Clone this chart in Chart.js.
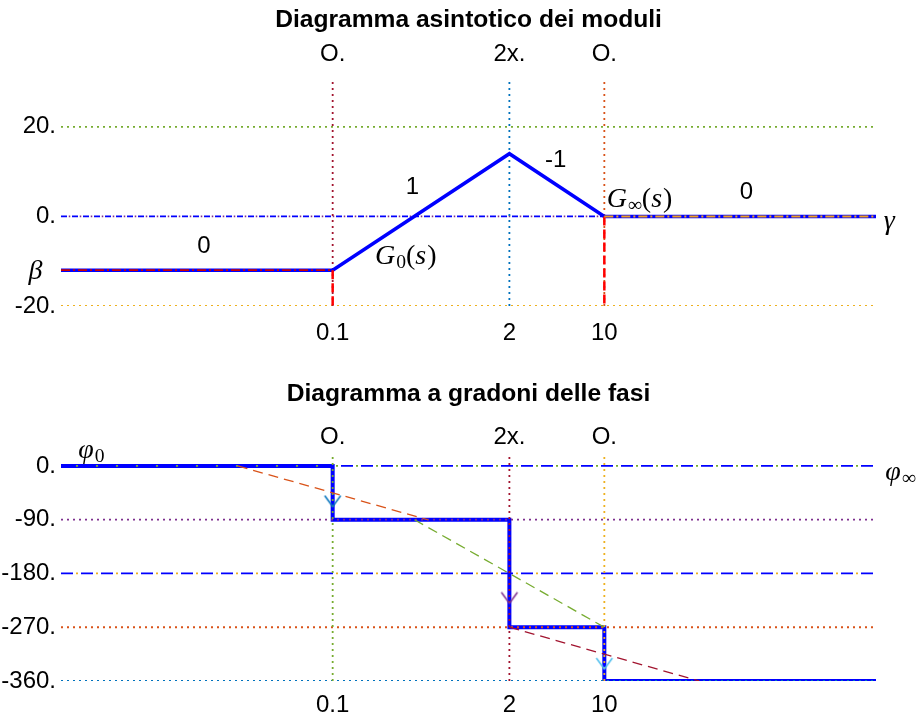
<!DOCTYPE html>
<html>
<head>
<meta charset="utf-8">
<script src="https://cdn.jsdelivr.net/npm/chart.js@4.4.1/dist/chart.umd.min.js"></script>
<style>
  html, body { margin: 0; padding: 0; background: #fff; }
  canvas { display: block; }
</style>
</head>
<body>
<canvas id="magChart" width="924" height="360"></canvas>
<canvas id="phaseChart" width="924" height="361"></canvas>
<script>
// break frequencies
const breaks = [0.1, 2, 10];
const breakLabels = ['0.1', '2', '10'];
const breakKinds = ['O.', '2x.', 'O.'];

// asymptotic magnitude
const magX = [0.001, 0.1, 2, 10, 1000];
const magY = [-12, -12, 14, 0, 0];
const magTicks = [20, 0, -20];
const magTickLabels = ['20.', '0.', '-20.'];

// stepped phase
const phaseX = [0.001, 0.1, 2, 10, 1000];
const phaseY = [0, -90, -270, -360, -360];
const phaseTicks = [0, -90, -180, -270, -360];
const phaseTickLabels = ['0.', '-90.', '-180.', '-270.', '-360.'];

// dashed phase approximations and arrow tips
const approxX0 = [0.02, 0.4, 2];
const approxX1 = [0.5, 10, 50];
const approxY0 = [0, -90, -270];
const approxY1 = [-90, -270, -360];
const arrowY = [-68, -230, -340];

const C = {
  blue: '#0000ff', mblue: '#0072BD', orange: '#D95319', gold: '#EDB120',
  purple: '#7E2F8E', green: '#77AC30', cyan: '#4DBEEE', dred: '#A2142F', red: '#ff0000'
};
const DOT = [2, 4];
const xMin = magX[0], xMax = magX[magX.length - 1];

function line(xs, ys, color, width, dash, offset) {
  return {
    data: xs.map((x, i) => ({ x: x, y: ys[i] })),
    borderColor: color, borderWidth: width,
    borderDash: dash || [], borderDashOffset: offset || 0,
    showLine: true, pointRadius: 0, fill: false
  };
}
function hLine(v, color, dash, off, w) { return line([xMin, xMax], [v, v], color, w || 1.8, dash, off); }
function vLine(x, y0, y1, color, dash, w) { return line([x, x], [y0, y1], color, w || 1.8, dash); }
// first in list = bottom layer
function stack(list) { return list.map((d, i) => Object.assign(d, { order: list.length - i })); }

function arrowHead(color) {
  const c = document.createElement('canvas');
  c.width = 24; c.height = 24;
  const g = c.getContext('2d');
  g.strokeStyle = color; g.lineWidth = 1.5;
  g.beginPath(); g.moveTo(4, 1); g.lineTo(12, 12); g.lineTo(20, 1); g.stroke();
  return c;
}

function drawMath(ctx, parts, x, y, align) {
  const size = 28;
  const fontOf = st => (st === 'i' ? 'italic ' : '') + (st === 'sub' ? size * 0.7 : size) + 'px "Liberation Serif"';
  let w = 0;
  for (const [s, st] of parts) { ctx.font = fontOf(st); w += ctx.measureText(s).width; }
  let cx = align === 'center' ? x - w / 2 : x;
  ctx.textAlign = 'left';
  for (const [s, st] of parts) {
    ctx.font = fontOf(st);
    ctx.fillText(s, cx, st === 'sub' ? y + size * 0.22 : y);
    cx += ctx.measureText(s).width + (st === 'i' ? 1 : 0);
  }
}

const notesPlugin = {
  id: 'notes',
  afterDraw(chart, args, opts) {
    const { ctx, chartArea: a, scales } = chart;
    ctx.save();
    ctx.fillStyle = '#000';
    ctx.textBaseline = 'middle';
    ctx.textAlign = 'center';
    ctx.font = 'bold 24.6px "Liberation Sans"';
    ctx.fillText(opts.title, (a.left + a.right) / 2, opts.titleY);
    for (const n of opts.items) {
      const px = scales.x.getPixelForValue(n.x);
      const py = scales.y.getPixelForValue(n.y);
      if (typeof n.t === 'string') {
        ctx.textAlign = 'center';
        ctx.font = '24px "Liberation Sans"';
        ctx.fillText(n.t, px, py);
      } else {
        drawMath(ctx, n.t, px, py, n.align);
      }
    }
    ctx.restore();
  }
};

const tickFont = { family: 'Liberation Sans', size: 24 };

function xAxis(pos, labels, pad, h) {
  return {
    type: 'logarithmic', position: pos, min: xMin, max: xMax,
    grid: { display: false, drawTicks: false }, border: { display: false },
    afterBuildTicks: s => { s.ticks = breaks.map(v => ({ value: v })); },
    ticks: { autoSkip: false, maxRotation: 0, padding: pad, color: '#000', font: tickFont,
             callback: (v, i) => labels[i] },
    afterFit: s => { s.height = h; }
  };
}
function yAxis(min, max, ticks, labels) {
  return {
    type: 'linear', min: min, max: max,
    grid: { display: false, drawTicks: false }, border: { display: false },
    afterBuildTicks: s => { s.ticks = ticks.map(v => ({ value: v })); },
    ticks: { padding: 5, color: '#000', font: tickFont, callback: (v, i) => labels[i] },
    afterFit: s => { s.width = 61; }
  };
}

const base = {
  responsive: false, animation: false, events: [],
  layout: { padding: { left: 0, right: 48, top: 0, bottom: 0 } },
  plugins: { legend: { display: false }, tooltip: { enabled: false } }
};

// ---- magnitude chart ----
const magTop = 30, magBottom = -20;
new Chart(document.getElementById('magChart'), {
  type: 'scatter',
  data: {
    datasets: stack([
      hLine(20, C.green, DOT),
      hLine(-20, C.gold, DOT),
      hLine(0, C.purple, [1.5, 9.5], 3.25),
      hLine(0, C.blue, [6, 5]),
      vLine(breaks[0], magBottom, magTop, C.dred, DOT),
      vLine(breaks[1], magBottom, magTop, C.mblue, DOT),
      vLine(breaks[2], magBottom, magTop, C.orange, DOT),
      line(magX, magY, C.blue, 3.5),
      line([magX[0], magX[1]], [magY[0], magY[1]], '#cc0000', 1.6, [9, 3, 2, 3]),
      vLine(breaks[0], magY[1], magBottom, C.red, [9, 4], 2.5),
      vLine(breaks[2], magY[3], magBottom, C.red, [9, 4], 2.5),
      line([magX[3], magX[4]], [magY[3], magY[4]], '#f0a020', 2, [9, 3, 2, 3])
    ])
  },
  options: Object.assign({}, base, {
    scales: {
      x: xAxis('bottom', breakLabels, 12.6, 54),
      x2: xAxis('top', breakKinds, 13.6, 82),
      y: yAxis(magBottom, magTop, magTicks, magTickLabels)
    },
    plugins: Object.assign({}, base.plugins, {
      notes: {
        title: 'Diagramma asintotico dei moduli', titleY: 20,
        items: [
          { t: '0', x: 0.0113, y: -6.8 },
          { t: '1', x: 0.387, y: 6.4 },
          { t: '-1', x: 4.39, y: 12.4 },
          { t: '0', x: 111, y: 5.3 },
          { t: [['β', 'i']], x: 0.00065, y: -12.3, align: 'center' },
          { t: [['γ', 'i']], x: 1253, y: -1.2, align: 'center' },
          { t: [['G', 'i'], ['0', 'sub'], ['(', 'r'], ['s', 'i'], [')', 'r']], x: 0.205, y: -9.0, align: 'left' },
          { t: [['G', 'i'], ['∞', 'sub'], ['(', 'r'], ['s', 'i'], [')', 'r']], x: 10.4, y: 3.7, align: 'left' }
        ]
      }
    })
  }),
  plugins: [notesPlugin]
});

// ---- phase chart ----
const phTop = 20, phBottom = -360;
const stepLine = line(phaseX, phaseY, C.blue, 4);
stepLine.stepped = 'before';
new Chart(document.getElementById('phaseChart'), {
  type: 'scatter',
  data: {
    datasets: stack([
      stepLine,
      hLine(phaseTicks[0], C.blue, [12, 8]),
      hLine(phaseTicks[0], C.green, [2, 18], 5),
      hLine(phaseTicks[1], C.purple, DOT),
      hLine(phaseTicks[2], C.blue, [12, 8]),
      hLine(phaseTicks[2], C.gold, [2, 18], 5),
      hLine(phaseTicks[3], C.orange, DOT),
      hLine(phaseTicks[4], C.mblue, DOT),
      vLine(breaks[0], phBottom, phTop, C.green, DOT),
      vLine(breaks[1], phBottom, phTop, C.dred, DOT),
      vLine(breaks[2], phBottom, phTop, C.gold, DOT),
      line([approxX0[0], approxX1[0]], [approxY0[0], approxY1[0]], C.orange, 1.3, [10, 6]),
      line([approxX0[1], approxX1[1]], [approxY0[1], approxY1[1]], C.green, 1.3, [10, 6]),
      line([approxX0[2], approxX1[2]], [approxY0[2], approxY1[2]], C.dred, 1.3, [10, 6]),
      {
        data: breaks.map((x, i) => ({ x: x, y: arrowY[i] })),
        pointStyle: [arrowHead(C.mblue), arrowHead(C.purple), arrowHead(C.cyan)],
        pointRadius: 6, showLine: false
      }
    ])
  },
  options: Object.assign({}, base, {
    scales: {
      x: xAxis('bottom', breakLabels, 9.6, 40),
      x2: xAxis('top', breakKinds, 2.6, 94),
      y: yAxis(phBottom, phTop, phaseTicks, phaseTickLabels)
    },
    plugins: Object.assign({}, base.plugins, {
      notes: {
        title: 'Diagramma a gradoni delle fasi', titleY: 34,
        items: [
          { t: [['φ', 'i'], ['0', 'sub']], x: 0.00134, y: 26.3, align: 'left' },
          { t: [['φ', 'i'], ['∞', 'sub']], x: 1170, y: -11.7, align: 'left' }
        ]
      }
    })
  }),
  plugins: [notesPlugin]
});
</script>
</body>
</html>
